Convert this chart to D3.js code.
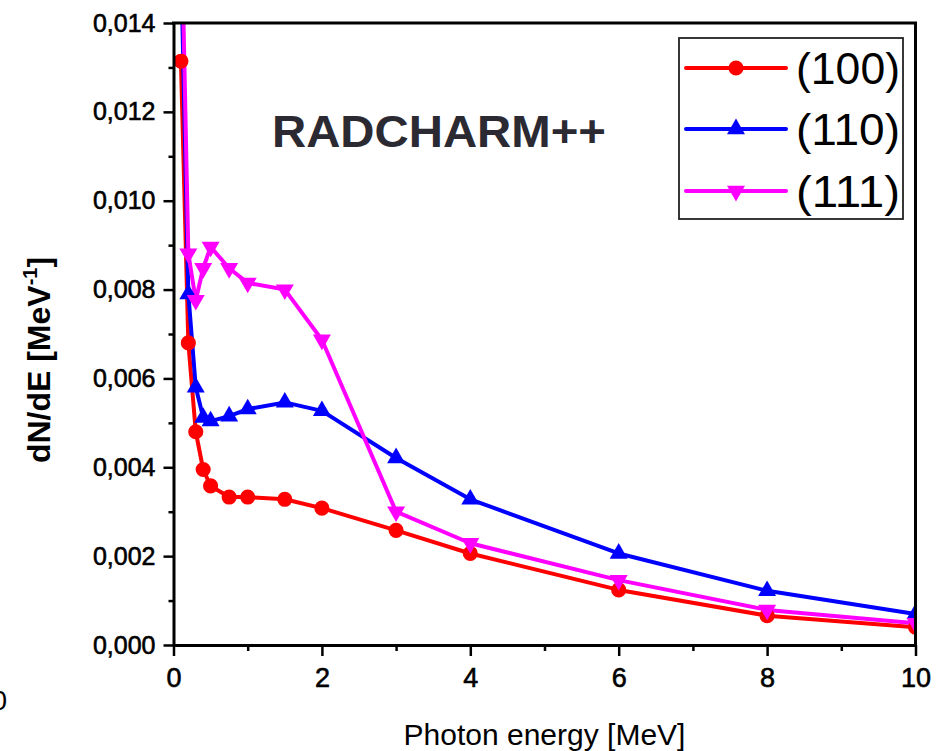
<!DOCTYPE html>
<html>
<head>
<meta charset="utf-8">
<script src="https://cdn.jsdelivr.net/npm/d3@7"></script>
<style>
  body { margin: 0; background: #fff; }
  #chart { width: 936px; height: 751px; }
  text { font-family: "Liberation Sans", Arial, sans-serif; }
</style>
</head>
<body>
<div id="chart"></div>
<script>
// ====== data ======
const energies   = [0.1, 0.2, 0.3, 0.4, 0.5, 0.75, 1, 1.5, 2, 3, 4, 6, 8, 10];
const values100  = [0.01314, 0.00680, 0.00480, 0.00395, 0.00358, 0.00333, 0.00333, 0.00328, 0.00308, 0.00258, 0.00206, 0.00124, 0.00066, 0.00040];
const values110  = [0.01550, 0.00790, 0.00580, 0.00512, 0.00504, 0.00515, 0.00531, 0.00546, 0.00527, 0.00421, 0.00328, 0.00206, 0.00122, 0.00070];
const values111  = [0.01680, 0.00881, 0.00776, 0.00848, 0.00896, 0.00848, 0.00815, 0.00800, 0.00687, 0.00300, 0.00229, 0.00146, 0.00079, 0.00049];
const seriesNames = ["(100)", "(110)", "(111)"];
const xTicks      = [0, 2, 4, 6, 8, 10];
const xMinorTicks = [1, 3, 5, 7, 9];
const yTicks      = [0, 0.002, 0.004, 0.006, 0.008, 0.010, 0.012, 0.014];
const yMinorTicks = [0.001, 0.003, 0.005, 0.007, 0.009, 0.011, 0.013];

class SpectrumChart {
  constructor(id) {
    this.id = id;
    this.series = [
      { name: seriesNames[0], values: values100, color: "#ff0000", symbol: d3.symbolCircle,   size: 180, rot: 0 },
      { name: seriesNames[1], values: values110, color: "#0000ff", symbol: d3.symbolTriangle, size: 140, rot: 0 },
      { name: seriesNames[2], values: values111, color: "#ff00ff", symbol: d3.symbolTriangle, size: 140, rot: 180 }
    ];
    this.initSVG();
    this.initScales();
    this.drawLines();
    this.drawAxes();
    this.drawTexts();
    this.drawLegend();
  }

  initSVG() {
    this.width = 936;
    this.height = 751;
    this.margin = { top: 23, right: 20.5, bottom: 106, left: 173.5 };
    this.innerW = this.width - this.margin.left - this.margin.right;
    this.innerH = this.height - this.margin.top - this.margin.bottom;

    this.svg = d3.select(`#${this.id}`).append("svg")
      .attr("width", this.width)
      .attr("height", this.height);

    this.svg.append("rect")
      .attr("width", this.width).attr("height", this.height)
      .attr("fill", "#fff");

    this.svg.append("defs").append("clipPath")
      .attr("id", "plot-clip")
      .append("rect")
        .attr("width", this.innerW)
        .attr("height", this.innerH);

    this.g = this.svg.append("g")
      .attr("transform", `translate(${this.margin.left},${this.margin.top})`);
  }

  initScales() {
    this.x = d3.scaleLinear().domain([0, 10]).range([0, this.innerW]);
    this.y = d3.scaleLinear().domain([0, 0.014]).range([this.innerH, 0]);
    const loc = d3.formatLocale({ decimal: ",", thousands: ".", grouping: [3], currency: ["", ""] });
    this.yFmt = loc.format(".3f");
  }

  drawLines() {
    const plot = this.g.append("g").attr("clip-path", "url(#plot-clip)");
    const line = d3.line()
      .x((d, i) => this.x(energies[i]))
      .y(d => this.y(d));

    this.series.forEach(s => {
      plot.append("path")
        .datum(s.values)
        .attr("d", line)
        .attr("fill", "none")
        .attr("stroke", s.color)
        .attr("stroke-width", 4)
        .attr("stroke-linejoin", "round");
    });

    this.series.forEach(s => {
      const sym = d3.symbol().type(s.symbol).size(s.size);
      plot.append("g").selectAll("path")
        .data(s.values)
        .join("path")
        .attr("d", sym)
        .attr("transform", (d, i) => `translate(${this.x(energies[i])},${this.y(d)}) rotate(${s.rot})`)
        .attr("fill", s.color);
    });
  }

  drawAxes() {
    const styleAxis = (sel, fontSize) => {
      sel.select(".domain").attr("stroke", "#000").attr("stroke-width", 3);
      sel.selectAll(".tick line").attr("stroke", "#000").attr("stroke-width", 2.5);
      sel.selectAll(".tick text")
        .attr("fill", "#000")
        .attr("stroke", "#000")
        .attr("stroke-width", 0.6)
        .style("font-size", fontSize + "px")
        .style("font-family", "'Liberation Sans', Arial, sans-serif");
    };

    // bottom axis
    const xAxis = this.g.append("g")
      .attr("transform", `translate(0,${this.innerH})`)
      .call(d3.axisBottom(this.x).tickValues(xTicks).tickSize(11).tickSizeOuter(0).tickPadding(12).tickFormat(d3.format("d")));
    styleAxis(xAxis, 27);
    this.g.append("g")
      .attr("transform", `translate(0,${this.innerH})`)
      .call(d3.axisBottom(this.x).tickValues(xMinorTicks).tickSize(6).tickFormat(""))
      .call(sel => { sel.select(".domain").remove(); sel.selectAll("line").attr("stroke", "#000").attr("stroke-width", 2.5); });

    // left axis
    const yAxis = this.g.append("g")
      .call(d3.axisLeft(this.y).tickValues(yTicks).tickSize(10).tickSizeOuter(0).tickPadding(8).tickFormat(this.yFmt));
    styleAxis(yAxis, 25);
    this.g.append("g")
      .call(d3.axisLeft(this.y).tickValues(yMinorTicks).tickSize(5).tickFormat(""))
      .call(sel => { sel.select(".domain").remove(); sel.selectAll("line").attr("stroke", "#000").attr("stroke-width", 2.5); });

    // top and right frame
    this.g.append("line")
      .attr("x1", -1.5).attr("x2", this.innerW + 1.5)
      .attr("y1", 0).attr("y2", 0)
      .attr("stroke", "#000").attr("stroke-width", 3);
    this.g.append("line")
      .attr("x1", this.innerW).attr("x2", this.innerW)
      .attr("y1", 0).attr("y2", this.innerH)
      .attr("stroke", "#000").attr("stroke-width", 3);
  }

  drawTexts() {
    // title inside plot
    this.svg.append("text")
      .attr("x", 272)
      .attr("y", 147)
      .attr("fill", "#2b2a33")
      .attr("textLength", 334)
      .attr("lengthAdjust", "spacingAndGlyphs")
      .style("font-size", "44px")
      .style("font-weight", "bold")
      .text("RADCHARM++");

    // x label
    this.svg.append("text")
      .attr("x", this.margin.left + this.innerW / 2)
      .attr("y", 745)
      .attr("text-anchor", "middle")
      .style("font-size", "30px")
      .text("Photon energy [MeV]");

    // y label
    const yl = this.svg.append("text")
      .attr("transform", `translate(50,${360}) rotate(-90)`)
      .attr("text-anchor", "middle")
      .style("font-size", "32px")
      .style("font-weight", "bold");
    yl.append("tspan").text("dN/dE [MeV");
    yl.append("tspan").attr("dy", -13).style("font-size", "20px").text("-1");
    yl.append("tspan").attr("dy", 13).text("]");

    // clipped stray label at the left edge
    this.svg.append("text")
      .attr("x", 7)
      .attr("y", 710)
      .attr("text-anchor", "end")
      .style("font-size", "28px")
      .text("0");
  }

  drawLegend() {
    const lg = this.svg.append("g");
    lg.append("rect")
      .attr("x", 679).attr("y", 38)
      .attr("width", 224).attr("height", 181)
      .attr("fill", "#fff")
      .attr("stroke", "#222").attr("stroke-width", 1.8);

    const rowY = [68, 129, 191];
    this.series.forEach((s, i) => {
      lg.append("line")
        .attr("x1", 686).attr("x2", 786)
        .attr("y1", rowY[i]).attr("y2", rowY[i])
        .attr("stroke", s.color).attr("stroke-width", 4)
        .attr("stroke-linecap", "round");
      lg.append("path")
        .attr("d", d3.symbol().type(s.symbol).size(s.size)())
        .attr("transform", `translate(736,${rowY[i]}) rotate(${s.rot})`)
        .attr("fill", s.color);
      lg.append("text")
        .attr("x", 796)
        .attr("y", rowY[i] + 15.5)
        .attr("textLength", 104)
        .attr("lengthAdjust", "spacingAndGlyphs")
        .style("font-size", "44px")
        .text(s.name);
    });
  }
}

new SpectrumChart("chart");
</script>
</body>
</html>
